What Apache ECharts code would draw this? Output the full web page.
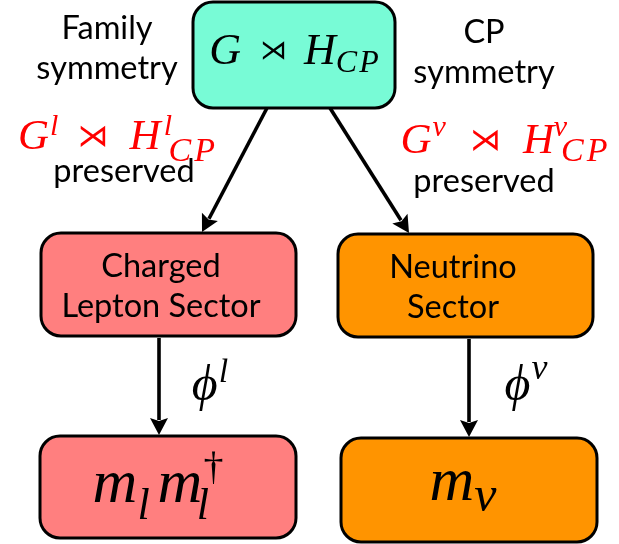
<!DOCTYPE html>
<html>
<head>
<meta charset="utf-8">
<title>Family and CP symmetry breaking</title>
<script src="https://cdn.jsdelivr.net/npm/echarts@6/dist/echarts.min.js"></script>
<style>
  html, body { margin: 0; background: #fff; }
  #main { width: 619px; height: 544px; }
</style>
</head>
<body>
<div id="main"></div>
<script>
// ---- content ----
const boxLabels = [
  '{i|G}{o|⋊}{i|H}{sbk|C}{sb|P}',
  'Charged\nLepton Sector',
  'Neutrino\nSector',
  '{i|m}{sbk|l}{i|m}{sb0|l}{dg|†}',
  '{i|m}{sb|ν}'
];
const boxColors = ['#78fbd6', '#ff7f7f', '#ff9400', '#ff7f7f', '#ff9400'];

const noteLabels = [
  'Family\nsymmetry',
  'CP\nsymmetry',
  '{i|G}{sp|l}{o|⋊}{i|H}{sp0|l}{sbk|C}{sb|P}',
  '{i|G}{sp|ν}{o|⋊}{i|H}{sp0|ν}{sbk|C}{sb|P}',
  'preserved',
  'preserved',
  '{i|ϕ}{sp|l}',
  '{i|ϕ}{sp|ν}'
];

// ---- layout (picture pixels) ----
const boxRects = [[193, 2, 202, 106], [41, 233, 255, 103], [338, 234, 255, 103], [40, 436, 256, 102], [341, 438, 256, 104]];
const boxTextAt = [[294, 52], [161, 287], [453, 287.5], [158, 486], [463, 484]];
const arrowFrom = [[267, 108], [330, 108], [159, 338], [469, 339]];
const arrowTo = [[202, 232], [409, 233], [159, 435], [469, 437]];
const noteAt = [[107, 48.5], [484, 53], [116.5, 137.5], [504, 142], [124, 172], [484, 182], [210, 387], [526, 387]];

const SANS = 'Lato';
const SERIF = "'Liberation Serif', 'DejaVu Serif'";

// math rich styles
function mathRich(o) {
  const it = { fontFamily: SERIF, fontStyle: 'italic', fill: o.color };
  const dn = o.subShift * 2, up = -o.supShift * 2;
  return {
    i: Object.assign({ fontSize: o.size }, it),
    o: { fontFamily: 'DejaVu Sans', fontSize: o.opSize || 26, fill: o.color, padding: [0, o.opR || 12, 0, o.opL || 12] },
    sb: Object.assign({ fontSize: o.subSize, padding: [dn, 0, 0, 0] }, it),
    sbk: Object.assign({ fontSize: o.subSize, padding: [dn, o.kern || 0, 0, 0] }, it),
    sb0: Object.assign({ fontSize: o.subSize, padding: [dn, 0, 0, 0], width: 1 }, it),
    sp: Object.assign({ fontSize: o.supSize, padding: [0, 0, up, 1] }, it),
    sp0: Object.assign({ fontSize: o.supSize, padding: [0, 0, up, o.supGap || 5], width: 1 }, it),
    dg: { fontFamily: SERIF, fontSize: o.supSize, fill: o.color, padding: [0, 0, up, 0] }
  };
}

const boxRich = [
  mathRich({ size: 44, subSize: 32, subShift: 11.5, supSize: 28, supShift: -10, color: '#000', opSize: 27, opL: 19, opR: 17, kern: 2 }),
  null,
  null,
  mathRich({ size: 62, subSize: 44, subShift: 21, supSize: 40, supShift: -18, color: '#000', kern: 8 }),
  mathRich({ size: 62, subSize: 50, subShift: 13.5, supSize: 40, supShift: -18, color: '#000' })
];
const noteRich = [
  null, null,
  mathRich({ size: 43, subSize: 34, subShift: 14.2, supSize: 30, supShift: -10, color: '#ff0000', opSize: 31, opL: 19, opR: 21, kern: 3, supGap: 7 }),
  mathRich({ size: 43, subSize: 34, subShift: 10.5, supSize: 30, supShift: -13.5, color: '#ff0000', opSize: 31, opL: 24, opR: 22, kern: 3, supGap: 6 }),
  null, null,
  mathRich({ size: 50, subSize: 34, subShift: 10, supSize: 34, supShift: -14.4, color: '#000' }),
  mathRich({ size: 50, subSize: 34, subShift: 10, supSize: 36, supShift: -17.4, color: '#000' })
];

function textEl(pos, label, rich, color) {
  const style = {
    text: label,
    align: 'center',
    verticalAlign: 'middle',
    fill: color || '#000'
  };
  if (rich) {
    style.rich = rich;
  } else {
    style.fontFamily = SANS;
    style.fontSize = 32.5;
    style.lineHeight = 40;
  }
  return { type: 'text', x: pos[0], y: pos[1], style: style };
}

const chart = echarts.init(document.getElementById('main'), null, { renderer: 'canvas' });

chart.setOption({
  animation: false,
  backgroundColor: '#fff',
  grid: { left: 0, right: 0, top: 0, bottom: 0 },
  xAxis: { type: 'value', min: 0, max: 619, show: false },
  yAxis: { type: 'value', min: 0, max: 544, inverse: true, show: false },
  series: [
    {
      type: 'custom',
      data: arrowFrom.map((p, i) => [p[0], p[1], arrowTo[i][0], arrowTo[i][1]]),
      z: 1,
      renderItem: function (params, api) {
        const a = api.coord([api.value(0), api.value(1)]);
        const b = api.coord([api.value(2), api.value(3)]);
        const dx = b[0] - a[0], dy = b[1] - a[1];
        const len = Math.sqrt(dx * dx + dy * dy);
        const ux = dx / len, uy = dy / len;
        const headLen = 17, headHalf = 9;
        const bx = b[0] - ux * headLen, by = b[1] - uy * headLen;
        return {
          type: 'group',
          children: [
            { type: 'line', shape: { x1: a[0], y1: a[1], x2: bx + ux * 2, y2: by + uy * 2 },
              style: { stroke: '#000', lineWidth: 3.6 } },
            { type: 'polygon', shape: { points: [
                [b[0], b[1]],
                [bx - uy * headHalf, by + ux * headHalf],
                [bx + ux * 3, by + uy * 3],
                [bx + uy * headHalf, by - ux * headHalf]
              ] }, style: { fill: '#000' } }
          ]
        };
      }
    },
    {
      type: 'custom',
      data: boxRects.map((r, i) => [r[0], r[1], r[2], r[3], i]),
      z: 2,
      renderItem: function (params, api) {
        const i = api.value(4);
        const p0 = api.coord([api.value(0), api.value(1)]);
        const p1 = api.coord([api.value(0) + api.value(2), api.value(1) + api.value(3)]);
        return {
          type: 'group',
          children: [
            { type: 'rect', shape: { x: p0[0], y: p0[1], width: p1[0] - p0[0], height: p1[1] - p0[1], r: 20 },
              style: { fill: boxColors[i], stroke: '#000', lineWidth: 3 } },
            textEl(api.coord(boxTextAt[i]), boxLabels[i], boxRich[i])
          ]
        };
      }
    },
    {
      type: 'custom',
      data: noteAt.map((p, i) => [p[0], p[1], i]),
      z: 3,
      renderItem: function (params, api) {
        const i = api.value(2);
        return textEl(api.coord([api.value(0), api.value(1)]), noteLabels[i], noteRich[i]);
      }
    }
  ]
});
</script>
</body>
</html>
